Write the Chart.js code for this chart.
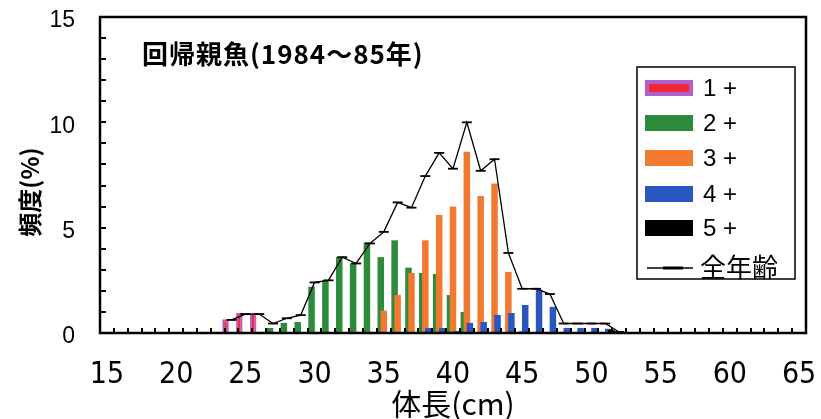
<!DOCTYPE html>
<html lang="ja">
<head>
<meta charset="utf-8">
<title>回帰親魚の体長組成</title>
<script src="https://cdn.jsdelivr.net/npm/chart.js@4.4.1/dist/chart.umd.min.js"></script>
<style>
  html, body { margin: 0; padding: 0; background: #fff; }
  #frame { position: relative; width: 821px; height: 419px; }
</style>
</head>
<body>
<div id="frame"><canvas id="chart" width="821" height="419"></canvas></div>
<script>
// 体長階級（cm）
const sizeClasses = [15,16,17,18,19,20,21,22,23,24,25,26,27,28,29,30,31,32,33,34,35,36,37,38,39,
                     40,41,42,43,44,45,46,47,48,49,50,51,52,53,54,55,56,57,58,59,60,61,62,63,64,65];
const xTickLabels = [15, 20, 25, 30, 35, 40, 45, 50, 55, 60, 65];
const yTickLabels = [0, 5, 10, 15];

// 年齢別の頻度（%）：最初の値が入る階級と、そこから連続する値
const age1From = 24;
const age1Plus = [0.65, 0.95, 0.95];
const age2From = 27;
const age2Plus = [0.24, 0.48, 0.52, 2.2, 2.5, 3.6, 3.3, 4.3, 3.6, 4.4, 3.1, 2.85, 2.8, 1.8, 1.0];
const age3From = 33;
const age3Plus = [0.06, 0.06, 1.06, 1.8, 2.85, 4.4, 5.6, 6.0, 8.6, 6.5, 7.1, 2.9, 0.1];
const age4From = 38;
const age4Plus = [0.24, 0.24, 0.1, 0.48, 0.52, 0.86, 0.95, 1.33, 2.05, 1.24, 0.24, 0.24, 0.24, 0.2];
const age5From = 51;
const age5Plus = [0.15];
// 全年齢の頻度（%）
const allFrom = 24;
const allAges = [0.62, 0.9, 0.9, 0.45, 0.7, 0.85, 2.4, 2.5, 3.6, 3.3, 4.25, 4.8, 6.2, 5.95, 7.45,
                 8.55, 7.8, 10.0, 7.7, 8.25, 3.8, 2.1, 2.1, 1.85, 0.45, 0.45, 0.45, 0.45, 0.05];

const seriesNames = ['1 +', '2 +', '3 +', '4 +', '5 +', '全年齢'];
const chartTitle = '回帰親魚(1984～85年)';
const yTitle = '頻度(%)';
const xTitle = '体長(cm)';

const JP = '"Noto Sans CJK JP", "Noto Sans", sans-serif';
const LAT = '"Liberation Sans", Arial, sans-serif';
const NARROW = '"Liberation Sans Narrow", "DejaVu Sans Condensed", sans-serif';

// 階級ごとの配列に展開（値のない階級は null）
function byClass(from, values) {
  const out = sizeClasses.map(() => null);
  const start = sizeClasses.indexOf(from);
  values.forEach((v, i) => { out[start + i] = v; });
  return out;
}

// 軸の大きさを固定し、端のラベルによる余白の追加をなくす
function fixSize(prop, size) {
  return function (s) {
    s[prop] = size;
    s.paddingLeft = 0; s.paddingRight = 0; s.paddingTop = 0; s.paddingBottom = 0;
  };
}

// 棒は年齢順に重ねて描き、折れ線を最後に描く
const drawInSeriesOrder = {
  id: 'drawInSeriesOrder',
  beforeDatasetsDraw(chart) {
    const ctx = chart.ctx;
    const a = chart.chartArea;
    ctx.save();
    ctx.beginPath();
    ctx.rect(a.left, a.top - 10, a.right - a.left, a.bottom - a.top + 10);
    ctx.clip();
    chart.data.datasets.forEach((ds, i) => {
      const meta = chart.getDatasetMeta(i);
      if (!meta.hidden) meta.controller.draw();
    });
    ctx.restore();
    return false;
  }
};

// 枠・内向きの目盛・図中の見出し・凡例・縦軸タイトル
const decorations = {
  id: 'decorations',
  afterDraw(chart) {
    const ctx = chart.ctx;
    const a = chart.chartArea;
    const xs = chart.scales.x, ys = chart.scales.y;
    ctx.save();
    ctx.strokeStyle = '#000';
    ctx.fillStyle = '#000';

    // 目盛（階級の境界ごと・1% ごと、内向き）
    ctx.lineWidth = 2;
    ctx.beginPath();
    for (let i = 0; i <= sizeClasses.length; i++) {
      const px = Math.round(xs.getPixelForValue(i - 0.5));
      ctx.moveTo(px, a.bottom);
      ctx.lineTo(px, a.bottom - 5);
    }
    for (let v = ys.min; v <= ys.max; v++) {
      const py = Math.round(ys.getPixelForValue(v));
      ctx.moveTo(a.left, py);
      ctx.lineTo(a.left + 6, py);
    }
    ctx.stroke();

    // 枠
    ctx.lineWidth = 2.5;
    ctx.strokeRect(a.left, a.top, a.right - a.left, a.bottom - a.top);

    // 図中の見出し
    ctx.font = 'bold 26px ' + JP;
    ctx.letterSpacing = '1px';
    ctx.textBaseline = 'middle';
    ctx.textAlign = 'left';
    ctx.fillText(chartTitle, 142, 54);
    ctx.letterSpacing = '0px';

    // 縦軸タイトル
    ctx.save();
    ctx.translate(30, 192);
    ctx.rotate(-Math.PI / 2);
    ctx.textAlign = 'center';
    ctx.font = 'bold 24px ' + JP;
    ctx.fillText(yTitle, 0, 0);
    ctx.restore();

    // 凡例
    const lx = 637, ly = 67, lw = 158, lh = 212;
    ctx.fillStyle = '#fff';
    ctx.fillRect(lx, ly, lw, lh);
    ctx.lineWidth = 1.5;
    ctx.strokeStyle = '#000';
    ctx.strokeRect(lx, ly, lw, lh);
    const rowY = [88, 123, 158, 194, 228, 268];
    chart.data.datasets.forEach((ds, i) => {
      const y = rowY[i];
      if (ds.type === 'line') {
        ctx.strokeStyle = ds.borderColor;
        ctx.lineWidth = 1.5;
        ctx.beginPath();
        ctx.moveTo(647, y); ctx.lineTo(693, y);
        ctx.stroke();
        ctx.lineWidth = 3;
        ctx.beginPath();
        ctx.moveTo(663, y); ctx.lineTo(683, y);
        ctx.stroke();
        ctx.fillStyle = '#000';
        ctx.font = '26px ' + JP;
        ctx.textAlign = 'left';
        ctx.fillText(ds.label, 700, y - 1);
      } else {
        const bw = ds.borderWidth || 0;
        ctx.fillStyle = bw ? ds.borderColor : ds.backgroundColor;
        ctx.fillRect(645, y - 8, 48, 16);
        if (bw) {
          ctx.fillStyle = ds.backgroundColor;
          ctx.fillRect(645 + 4, y - 4, 48 - 8, 8);
        }
        ctx.fillStyle = '#000';
        ctx.font = '24px ' + LAT;
        ctx.textAlign = 'left';
        ctx.fillText(ds.label, 703, y + 1);
      }
    });
    ctx.restore();
  }
};

const barCommon = { borderWidth: 0 };

new Chart(document.getElementById('chart'), {
  type: 'bar',
  data: {
    labels: sizeClasses.map(String),
    datasets: [
      { label: seriesNames[0], data: byClass(age1From, age1Plus),
        backgroundColor: '#f02838', borderColor: '#b060c8', borderWidth: 2 },
      Object.assign({ label: seriesNames[1], data: byClass(age2From, age2Plus), backgroundColor: '#2e8b3c' }, barCommon),
      Object.assign({ label: seriesNames[2], data: byClass(age3From, age3Plus), backgroundColor: '#f27a30' }, barCommon),
      Object.assign({ label: seriesNames[3], data: byClass(age4From, age4Plus), backgroundColor: '#2a56c0' }, barCommon),
      Object.assign({ label: seriesNames[4], data: byClass(age5From, age5Plus), backgroundColor: '#000000' }, barCommon),
      { type: 'line', label: seriesNames[5], data: byClass(allFrom, allAges),
        borderColor: '#000', borderWidth: 1.3, tension: 0, fill: false, spanGaps: false,
        pointStyle: 'line', pointRadius: 5, pointBorderWidth: 1.8,
        pointBorderColor: '#000', pointBackgroundColor: '#000' }
    ]
  },
  options: {
    responsive: false,
    animation: false,
    devicePixelRatio: 1,
    layout: { padding: { top: 17, right: 15, left: 0, bottom: 0 } },
    datasets: { bar: { categoryPercentage: 1.085, barPercentage: 2.17, grouped: true } },
    plugins: { legend: { display: false }, tooltip: { enabled: false } },
    scales: {
      x: {
        type: 'category', offset: true,
        afterFit: fixSize('height', 86),
        grid: { display: false, drawTicks: false },
        border: { display: false },
        ticks: {
          font: { family: NARROW, size: 30 }, color: '#000', padding: 24,
          maxRotation: 0, autoSkip: false,
          callback(value) {
            const lab = this.getLabelForValue(value);
            return xTickLabels.includes(Number(lab)) ? lab : '';
          }
        },
        title: { display: true, text: xTitle, color: '#000',
                 font: { family: JP, size: 30, lineHeight: 1 }, padding: { top: 0, bottom: 0 } }
      },
      y: {
        min: 0, max: 15,
        afterFit: fixSize('width', 100),
        afterBuildTicks(s) { s.ticks = yTickLabels.map(v => ({ value: v })); },
        grid: { display: false, drawTicks: false },
        border: { display: false },
        ticks: { font: { family: LAT, size: 23 }, color: '#000', padding: 25, labelOffset: 4 }
      }
    }
  },
  plugins: [drawInSeriesOrder, decorations]
});
</script>
</body>
</html>
